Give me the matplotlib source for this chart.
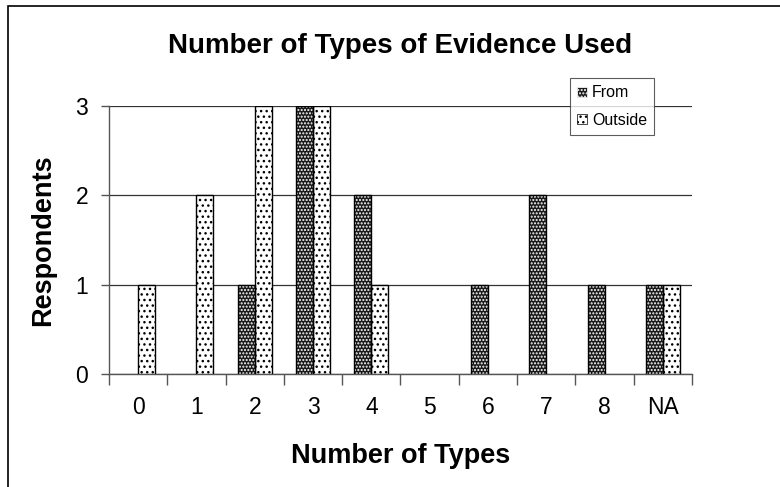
import numpy as np
import matplotlib.pyplot as plt
from matplotlib.patches import Rectangle, Patch

plt.rcParams['font.family'] = ['Liberation Sans', 'DejaVu Sans']
plt.rcParams['hatch.linewidth'] = 1.0

categories = ['0', '1', '2', '3', '4', '5', '6', '7', '8', 'NA']
from_vals = [0, 0, 1, 3, 2, 0, 1, 2, 1, 1]
outside_vals = [1, 2, 3, 3, 1, 0, 0, 0, 0, 1]

fig = plt.figure(figsize=(7.8, 4.87), dpi=100)
ax = fig.add_axes([0.1397, 0.232, 0.7475, 0.55])

# outer frame of the chart area (left and top edges visible)
fig.patches.append(Rectangle((8 / 780, -0.05), 1.2, 1 - 6 / 487 + 0.05,
                             transform=fig.transFigure, fill=False,
                             edgecolor='black', linewidth=1.2, zorder=0))

x = np.arange(len(categories))
w = 0.29
fv = np.array(from_vals)
ov = np.array(outside_vals)
fm = fv > 0
om = ov > 0

# dark bars with white dot grid: hatch drawn in white, then a black outline on top
ax.bar(x[fm] - w / 2, fv[fm], w, color='#1a1a1a', edgecolor='white',
       hatch='.....', linewidth=0, zorder=3)
ax.bar(x[fm] - w / 2, fv[fm], w, fill=False, edgecolor='black',
       linewidth=1.0, zorder=4)
ax.bar(x[om] + w / 2, ov[om], w, color='white', edgecolor='black',
       hatch='...', linewidth=1.0, zorder=3)

h1 = Patch(facecolor='#1a1a1a', edgecolor='white', hatch='.....', linewidth=0.5)
h2 = Patch(facecolor='white', edgecolor='black', hatch='...', linewidth=0.5)
leg = ax.legend([h1, h2], ['From', 'Outside'], loc='upper right',
                bbox_to_anchor=(0.935, 1.105), fontsize=11.5, frameon=True,
                fancybox=False, edgecolor='#333333', handlelength=0.6,
                handleheight=0.6, handletextpad=0.3, borderpad=0.45,
                labelspacing=0.8, borderaxespad=0)
leg.get_frame().set_linewidth(0.8)

ax.set_xlim(-0.5, len(categories) - 0.5)
ax.set_ylim(0, 3)
ax.set_yticks([0, 1, 2, 3])
ax.set_xticks(x)
ax.set_xticklabels(categories)
ax.set_xticks(np.arange(-0.5, len(categories)), minor=True)
ax.tick_params(axis='x', which='major', length=0, pad=16, labelsize=16.5)
ax.tick_params(axis='x', which='minor', length=8, color='#555555', width=1)
ax.tick_params(axis='y', length=6, color='#555555', width=1, labelsize=16.5, pad=9)

ax.yaxis.grid(True, color='#333333', linewidth=0.9, zorder=0)
ax.set_axisbelow(True)
for s in ['top', 'right']:
    ax.spines[s].set_visible(False)
for s in ['left', 'bottom']:
    ax.spines[s].set_color('#555555')
    ax.spines[s].set_linewidth(1.0)

ax.set_title('Number of Types of Evidence Used', fontsize=20,
             fontweight='bold', pad=38)
ax.set_xlabel('Number of Types', fontsize=19.5, fontweight='bold', labelpad=17)
ax.set_ylabel('Respondents', fontsize=19.5, fontweight='bold', labelpad=14)

fig.savefig('out.png', dpi=100)
